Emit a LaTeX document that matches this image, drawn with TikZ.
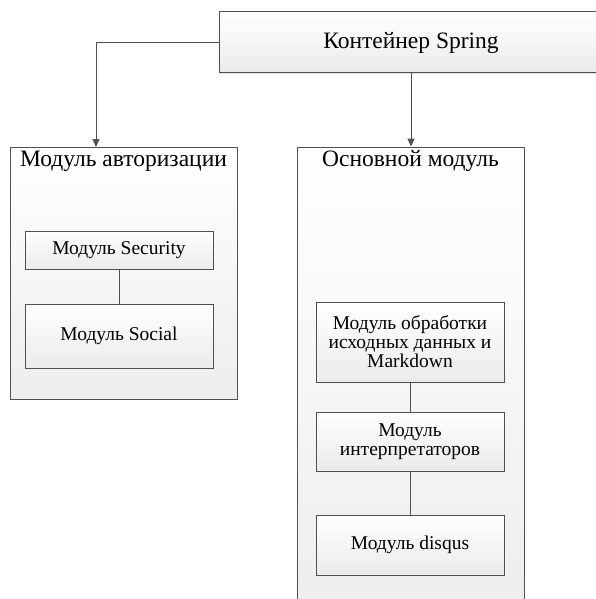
\documentclass[tikz,border=0pt]{standalone}
\usepackage{fontspec}
\setmainfont{Liberation Serif}
\usetikzlibrary{arrows.meta,shadows}
\definecolor{edge}{HTML}{505050}
\tikzset{
  box/.style={draw=edge, line width=1pt, rectangle, top color=white, bottom color=gray!16,
    drop shadow={shadow xshift=1.2pt, shadow yshift=-1.2pt, fill=gray!35, opacity=0.6},
    inner sep=1pt, align=center, font=\fontsize{19.5}{19}\selectfont},
  container/.style={draw=edge, line width=1pt, rectangle, top color=white, bottom color=gray!14,
    drop shadow={shadow xshift=1.2pt, shadow yshift=-1.2pt, fill=gray!35, opacity=0.6}},
  ctitle/.style={font=\fontsize{23.5}{24}\selectfont, inner sep=0pt},
  arr/.style={draw=edge, line width=1pt, -{Triangle[length=8pt,width=7pt]}},
  link/.style={draw=edge, line width=1pt}
}
\begin{document}
\begin{tikzpicture}[x=1pt,y=-1pt]
\useasboundingbox (0,0) rectangle (596,599);
\clip (0,0) rectangle (596,599);
% containers
\node[container, minimum width=227pt, minimum height=252pt] (lc) at (123.5,273) {};
\node[container, minimum width=227pt, minimum height=470pt] (rc) at (410.5,382) {};
\node[ctitle] (lct) at (123.5,161) {Модуль авторизации};
\node[ctitle] (rct) at (410.5,161) {Основной модуль};
% top box
\node[box, minimum width=420pt, minimum height=61pt] (spring) at (429,42.5) {};
\node[ctitle] (springt) at (411,43) {Контейнер Spring};
% left inner boxes
\node[box, minimum width=188pt, minimum height=38pt] (sec) at (119,250) {Модуль Security};
\node[box, minimum width=188pt, minimum height=64pt] (soc) at (119,336) {Модуль Social};
% right inner boxes
\node[box, minimum width=188pt, minimum height=80pt] (b1) at (410,342) {Модуль обработки\\исходных данных и\\Markdown};
\node[box, minimum width=188pt, minimum height=59pt] (b2) at (410,441.5) {Модуль\\интерпретаторов};
\node[box, minimum width=188pt, minimum height=60pt] (b3) at (410,545) {Модуль disqus};
% connectors
\coordinate (la) at (96,147);
\draw[arr] (spring.west) -| (la);
\draw[arr] (spring.south -| springt) -- (rc.north -| springt);
\draw[link] (sec.south) -- (soc.north);
\draw[link] (b1.south) -- (b2.north);
\draw[link] (b2.south) -- (b3.north);
\end{tikzpicture}
\end{document}
